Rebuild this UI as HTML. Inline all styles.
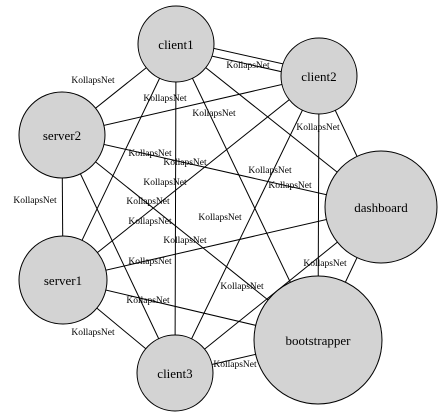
<!DOCTYPE html>
<html><head><meta charset="utf-8"><style>
html,body{margin:0;padding:0;background:#fff;width:444px;height:417px;overflow:hidden}
text{font-family:"Liberation Serif",serif}
</style></head><body>
<svg id="g" width="444" height="417" viewBox="0 0 444 417">
<rect width="444" height="417" fill="#fff"/>
<g id="edges"></g><g id="labels"></g><g id="nodes"></g>
</svg>
<script>
const nodeNames=["client1","client2","server2","dashboard","server1","bootstrapper","client3"];
const nodeX=[176,319,62,381,63,318,175];
const nodeY=[44,76,135,207,280,340,373];
const nodeR=[38,38,43,56,44,64,38];
const edgeFrom=[0,0,0,0,0,0,0,1,1,1,1,1,2,2,2,2,3,3,3,4,4,5];
const edgeTo=[1,1,2,3,4,5,6,2,3,4,5,6,3,4,5,6,4,5,6,5,6,6];
const edgeOff=[-4,4,0,0,0,0,0,0,0,0,0,0,0,0,0,0,0,0,0,0,0,0];
const labelX=[248,93,165,214,318,150,185,270,290,165,35,148,150,220,185,150,325,242,148,93,235];
const labelY=[65,80,98,113,127,153,162,170,185,182,200,201,221,217,240,261,263,286,300,332,364];
const NS="http://www.w3.org/2000/svg";
const E=document.getElementById('edges'),L=document.getElementById('labels'),N=document.getElementById('nodes');
edgeFrom.forEach((f,i)=>{
  const t=edgeTo[i];
  const dx=nodeX[t]-nodeX[f],dy=nodeY[t]-nodeY[f],len=Math.hypot(dx,dy);
  const ox=-dy/len*edgeOff[i],oy=dx/len*edgeOff[i];
  const l=document.createElementNS(NS,'line');
  l.setAttribute('x1',nodeX[f]+ox);l.setAttribute('y1',nodeY[f]+oy);
  l.setAttribute('x2',nodeX[t]+ox);l.setAttribute('y2',nodeY[t]+oy);
  l.setAttribute('stroke','#000');l.setAttribute('stroke-width','1');
  
  
  E.appendChild(l);
});
labelX.forEach((x,i)=>{
  const t=document.createElementNS(NS,'text');
  t.setAttribute('x',x);t.setAttribute('y',labelY[i]+3);
  t.setAttribute('text-anchor','middle');t.setAttribute('font-size','9.5');
  t.textContent='KollapsNet';
  
  
  L.appendChild(t);
});
nodeNames.forEach((n,i)=>{
  const g=document.createElementNS(NS,'g');
  
  
  const c=document.createElementNS(NS,'circle');
  c.setAttribute('cx',nodeX[i]);c.setAttribute('cy',nodeY[i]);c.setAttribute('r',nodeR[i]);
  c.setAttribute('fill','#d3d3d3');c.setAttribute('stroke','#000');
  
  
  const t=document.createElementNS(NS,'text');
  t.setAttribute('x',nodeX[i]);t.setAttribute('y',nodeY[i]+5);
  t.setAttribute('text-anchor','middle');t.setAttribute('font-size','13');
  t.textContent=n;
  
  
  g.appendChild(c);g.appendChild(t);N.appendChild(g);
});
</script>
</body></html>
